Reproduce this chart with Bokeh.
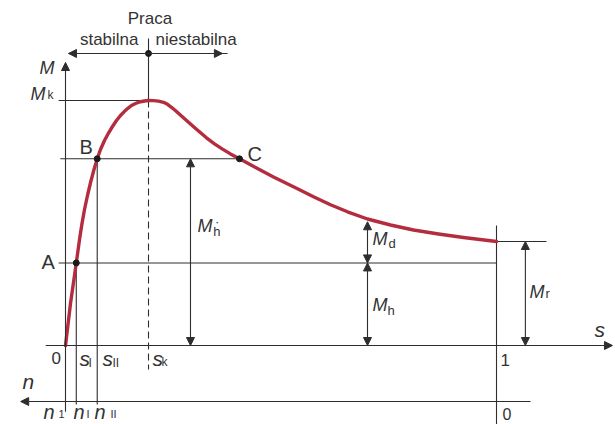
from bokeh.plotting import figure
from bokeh.models import Range1d, Arrow, NormalHead
from bokeh.embed import file_html
from bokeh.resources import INLINE
from bokeh.core.properties import value

# Torque-slip characteristic of an induction motor (M normalised to M_k = 1)
slip = [0.0, 0.0116, 0.025, 0.029, 0.0332, 0.0383, 0.0441, 0.051, 0.0587,
        0.0661, 0.0736, 0.0812, 0.0905, 0.0998, 0.109, 0.1183, 0.1276, 0.1369,
        0.1462, 0.1531, 0.1624, 0.174, 0.1833, 0.1926, 0.2042, 0.2158, 0.2274,
        0.2367, 0.2459, 0.2575, 0.2691, 0.29, 0.3086, 0.3271, 0.3457, 0.3643,
        0.3828, 0.4037, 0.4432, 0.4826, 0.5383, 0.5754, 0.6148, 0.6543, 0.7007,
        0.7541, 0.8074, 0.8654, 0.9234, 1.0]
torque = [0.0, 0.1714, 0.337, 0.3878, 0.4408, 0.498, 0.5551, 0.6122, 0.6694,
          0.7184, 0.762, 0.8, 0.8367, 0.8673, 0.8939, 0.9184, 0.9388, 0.9559,
          0.9702, 0.9796, 0.9878, 0.995, 0.998, 1.0, 0.9996, 0.9976, 0.9927,
          0.9845, 0.9722, 0.955, 0.9367, 0.9041, 0.8755, 0.8478, 0.8229, 0.8016,
          0.782, 0.762, 0.7245, 0.6878, 0.6396, 0.6073, 0.5747, 0.5457, 0.5163,
          0.4918, 0.4714, 0.4551, 0.4408, 0.4245]

# characteristic slips and torque levels
s_I, s_II, s_k, s_C = 0.025, 0.0736, 0.1926, 0.4037
M_k, M_B, M_A, M_r = 1.0, 0.762, 0.337, 0.4245
s_Mh_prime, s_Md, s_Mr = 0.29, 0.7007, 1.067
M_d_top = 0.505
M_work = 1.192          # level of the stable / unstable arrow
M_n_axis = -0.2286      # level of the speed axis

INK = "#2e2e2e"
RED = "#b32d3e"
FONT = "Liberation Sans"
LIFT = 0.0286           # baseline correction for the SVG text glyphs

p = figure(width=615, height=424, output_backend="svg", toolbar_location=None,
           x_range=Range1d(-65 / 431, 550 / 431), y_range=Range1d(-79 / 245, 345 / 245),
           x_axis_type=None, y_axis_type=None, min_border=0)
p.outline_line_color = None
p.grid.visible = False
p.background_fill_color = "white"
p.border_fill_color = "white"


def seg(x0, y0, x1, y1, dash="solid"):
    p.line([x0, x1], [y0, y1], line_color=INK, line_width=1.1, line_dash=dash)


def arrow(x0, y0, x1, y1, both=True):
    head = lambda: NormalHead(size=8, fill_color=INK, line_color=INK, line_width=1)
    p.add_layout(Arrow(start=head() if both else None, end=head(),
                       x_start=x0, y_start=y0, x_end=x1, y_end=y1,
                       line_color=INK, line_width=1.1))


def label(x, y, txt, size=17, italic=False, align="left"):
    p.text(x=[x], y=[y + LIFT], text=[txt], text_font=value(FONT),
           text_font_size=f"{size}px", text_font_style="italic" if italic else "normal",
           text_color="#333333", text_align=align, text_baseline="alphabetic")


# axes
arrow(0, -0.27, 0, 1.155, both=False)            # M axis
arrow(-0.046, 0, 1.269, 0, both=False)           # s axis
arrow(1.079, M_n_axis, -0.104, M_n_axis, both=False)  # n axis
seg(1.0, 0.49, 1.0, -0.33)                        # s = 1 / n = 0

# guide lines
seg(-0.016, M_k, s_k, M_k)
seg(-0.012, M_B, 0.41, M_B)
seg(-0.016, M_A, 1.0, M_A)
seg(1.0, M_r, 1.116, M_r)
seg(s_I, M_A, s_I, -0.241)
seg(s_II, M_B, s_II, -0.241)
seg(s_k, 1.253, s_k, M_k)
seg(s_k, M_k, s_k, -0.098, dash="7 4")

# stable / unstable work region
seg(0.007, M_work, 0.376, M_work)
arrow(s_k, M_work, 0.007, M_work, both=False)
arrow(s_k, M_work, 0.364, M_work, both=False)

# torque dimension arrows
arrow(s_Mh_prime, 0, s_Mh_prime, M_B)
arrow(s_Md, M_A, s_Md, M_d_top)
arrow(s_Md, 0, s_Md, M_A)
arrow(s_Mr, 0, s_Mr, M_r)

# characteristic curve
p.line(slip, torque, line_color=RED, line_width=3.4, line_join="round", line_cap="round")

# operating points
p.scatter([s_I, s_II, s_C, s_k], [M_A, M_B, M_B, M_work], size=6, color="#1a1a1a")

# texts
label(0.196, 1.306, "Praca", 17, align="center")
label(0.1694, 1.222, "stabilna", 17, align="right")
label(0.2088, 1.222, "niestabilna", 17)

label(-0.0603, 1.106, "M", 18, italic=True)
label(-0.0812, 0.998, "M", 18, italic=True)
label(-0.0418, 0.992, "k", 12)
label(0.0325, 0.78, "B", 20)
label(0.4223, 0.755, "C", 20)
label(-0.0557, 0.314, "A", 20)

label(0.306, 0.461, "M", 18, italic=True)
label(0.343, 0.437, "h", 13)
label(0.3466, 0.478, "·", 13)
label(0.7123, 0.408, "M", 18, italic=True)
label(0.7494, 0.388, "d", 13)
label(0.7123, 0.1347, "M", 18, italic=True)
label(0.7471, 0.1143, "h", 13)
label(1.0766, 0.1918, "M", 18, italic=True)
label(1.1137, 0.1837, "r", 13)

label(1.2274, 0.0367, "s", 21, italic=True)
label(-0.0325, -0.0776, "0", 17)
label(0.0325, -0.0816, "s", 21, italic=True)
label(0.0534, -0.098, "I", 12)
label(0.0858, -0.0816, "s", 21, italic=True)
label(0.1090, -0.098, "II", 12)
label(0.2019, -0.0816, "s", 21, italic=True)
label(0.2227, -0.094, "k", 12)
label(1.0093, -0.0898, "1", 17)

label(-0.0998, -0.1755, "n", 21, italic=True)
label(-0.051, -0.302, "n", 20, italic=True)
label(-0.0162, -0.308, "1", 11)
label(0.0186, -0.302, "n", 20, italic=True)
label(0.0487, -0.308, "I", 11)
label(0.0673, -0.302, "n", 20, italic=True)
label(0.1044, -0.308, "II", 11)
label(1.0139, -0.31, "0", 16)

open("out.html", "w").write(file_html(p, INLINE))
